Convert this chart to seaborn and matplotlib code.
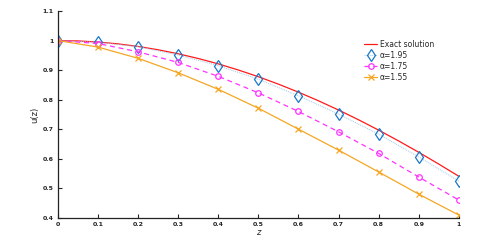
import matplotlib
matplotlib.use("Agg")
import matplotlib.pyplot as plt
import seaborn as sns
import pandas as pd

sns.set_style("ticks")
plt.rcParams['font.family'] = ['DejaVu Sans']

z = [0.0, 0.1, 0.2, 0.3, 0.4, 0.5, 0.6, 0.7, 0.8, 0.9, 1.0]
exact_z = [0.0, 0.05, 0.1, 0.15, 0.2, 0.25, 0.3, 0.35, 0.4, 0.45, 0.5, 0.55, 0.6,
           0.65, 0.7, 0.75, 0.8, 0.85, 0.9, 0.95, 1.0]
exact_u = [1.0, 0.9988, 0.9950, 0.9888, 0.9801, 0.9689, 0.9553, 0.9394, 0.9211,
           0.9004, 0.8776, 0.8525, 0.8253, 0.7961, 0.7648, 0.7317, 0.6967, 0.6600,
           0.6216, 0.5817, 0.5403]
u_195 = [1.0, 0.994, 0.979, 0.951, 0.915, 0.869, 0.813, 0.751, 0.683, 0.606, 0.524]
u_175 = [1.0, 0.990, 0.962, 0.926, 0.879, 0.823, 0.760, 0.691, 0.618, 0.538, 0.460]
u_155 = [1.0, 0.978, 0.940, 0.891, 0.835, 0.771, 0.700, 0.629, 0.555, 0.480, 0.409]
labels = ["Exact solution", "\u03b1=1.95", "\u03b1=1.75", "\u03b1=1.55"]
x_ticks = [0, 0.1, 0.2, 0.3, 0.4, 0.5, 0.6, 0.7, 0.8, 0.9, 1]
x_tick_labels = ["0", "0.1", "0.2", "0.3", "0.4", "0.5", "0.6", "0.7", "0.8", "0.9", "1"]
y_ticks = [0.4, 0.5, 0.6, 0.7, 0.8, 0.9, 1.0, 1.1]
y_tick_labels = ["0.4", "0.5", "0.6", "0.7", "0.8", "0.9", "1", "1.1"]

fig = plt.figure(figsize=(4.94, 2.45), dpi=100)
ax = fig.add_axes([0.117, 0.111, 0.812, 0.844])

sns.lineplot(x=exact_z, y=exact_u, ax=ax, color="#ff1a1a", lw=0.9, label=labels[0])
sns.lineplot(x=z, y=u_195, ax=ax, color="#9cc8e8", lw=0.7, linestyle=(0, (1, 1)),
             marker="d", markersize=6, markerfacecolor="none",
             markeredgecolor="#1a78c8", markeredgewidth=0.9, label=labels[1])
sns.lineplot(x=z, y=u_175, ax=ax, color="#ff33ff", lw=0.9, linestyle=(0, (4, 3)),
             marker="o", markersize=4, markerfacecolor="none",
             markeredgecolor="#ff33ff", markeredgewidth=0.9, label=labels[2])
sns.lineplot(x=z, y=u_155, ax=ax, color="#f5a623", lw=0.9,
             marker="x", markersize=4, markeredgecolor="#f5a623",
             markeredgewidth=0.9, label=labels[3])

ax.set_xlim(0, 1)
ax.set_ylim(0.4, 1.1)
ax.set_xticks(x_ticks)
ax.set_xticklabels(x_tick_labels, fontsize=4.5, fontweight="bold")
ax.set_yticks(y_ticks)
ax.set_yticklabels(y_tick_labels, fontsize=4.5, fontweight="bold")
ax.tick_params(direction="in", length=3, width=0.8, pad=3)
for s in ["top", "right"]:
    ax.spines[s].set_visible(False)
for s in ["left", "bottom"]:
    ax.spines[s].set_linewidth(0.9)
    ax.spines[s].set_color("#222222")
ax.set_xlabel("z", fontsize=6, fontstyle="italic", labelpad=1)
ax.set_ylabel("u(z)", fontsize=6, labelpad=2)

leg = ax.legend(loc="upper left", bbox_to_anchor=(0.755, 0.875), frameon=False,
                fontsize=5.5, handlelength=1.8, handletextpad=0.3, labelspacing=0.25,
                borderaxespad=0)

fig.savefig("out.png", dpi=100)
